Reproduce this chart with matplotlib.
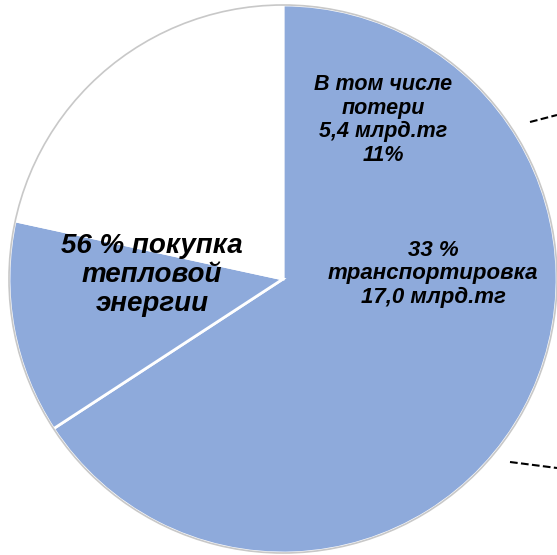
import matplotlib.pyplot as plt

# slice sizes (clockwise from 12 o'clock)
shares = [65.8, 12.6, 21.6]
colors = ['#8eaadb', '#8eaadb', 'white']

label_losses = 'В том числе\nпотери\n5,4 млрд.тг\n11%'
label_transport = '33 %\nтранспортировка\n17,0 млрд.тг'
label_purchase = '56 % покупка\nтепловой\nэнергии'

W, H = 557, 555
cx, cy, r = 283, 279, 274

fig = plt.figure(figsize=(W / 100, H / 100), dpi=100)
ax = fig.add_axes([0, 0, 1, 1])

wedges, _ = ax.pie(shares, colors=colors, startangle=90, counterclock=False,
                   radius=1, wedgeprops=dict(edgecolor='white', linewidth=2))
# light grey rim around the whole pie
ax.add_patch(plt.Circle((0, 0), 1.0, fill=False, edgecolor='#c8c8c8', linewidth=1.2))

ax.set_xlim(-cx / r, (W - cx) / r)
ax.set_ylim(-(H - cy) / r, cy / r)
ax.set_aspect('auto')
ax.axis('off')

def px(x, y):
    return (x - cx) / r, (cy - y) / r

font = dict(family=['Liberation Sans', 'DejaVu Sans'], weight='bold', style='italic',
            ha='center', va='center', linespacing=1.15)
ax.text(*px(383, 120), label_losses, fontsize=15.5, **font)
ax.text(*px(433, 274), label_transport, fontsize=16, **font)
ax.text(*px(152, 275), label_purchase, fontsize=20, **font)

# dashed leader lines going off the right edge
ax.plot(*zip(px(530, 122), px(557, 115)), color='black', linestyle='--', linewidth=1.5, clip_on=False)
ax.plot(*zip(px(510, 462), px(557, 468)), color='black', linestyle='--', linewidth=1.5, clip_on=False)

fig.savefig('out.png', dpi=100)
